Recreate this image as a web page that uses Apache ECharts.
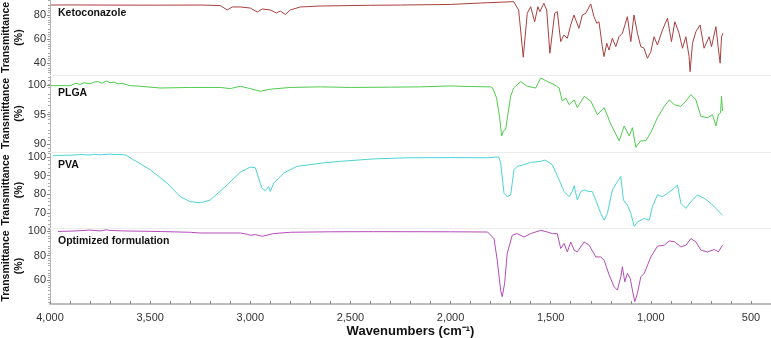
<!DOCTYPE html>
<html>
<head>
<meta charset="utf-8">
<script src="https://cdn.jsdelivr.net/npm/echarts@6/dist/echarts.min.js"></script>
<style>
html,body{margin:0;padding:0;background:#fff;}
#chart{width:771px;height:338px;}
</style>
</head>
<body>
<div id="chart"></div>
<script>
// FTIR spectra: [wavenumber (cm-1), transmittance (%)]
var ketoconazole = [
  [3995, 88.3], [3900, 88.4], [3750, 88.3], [3500, 88.2], [3250, 88.3], [3150, 87.9],
  [3115, 84.2], [3090, 86.7], [3050, 86.7], [3000, 85.8], [2965, 82.5], [2940, 85],
  [2900, 84.2], [2870, 81.7], [2850, 83.3], [2825, 80.4], [2800, 84.2], [2750, 86.7],
  [2650, 87.5], [2400, 88.1], [2250, 88.3], [2000, 88.8], [1850, 90], [1685, 91.1],
  [1660, 84.2], [1637, 44.8], [1617, 81.4], [1600, 86.9], [1580, 74.4], [1564, 86.9],
  [1554, 82.8], [1534, 89.8], [1520, 84.2], [1504, 48.1], [1480, 81.4], [1467, 82.8],
  [1450, 57.8], [1434, 63.3], [1417, 60.6], [1400, 71.7], [1384, 80], [1359, 68.9],
  [1342, 80], [1325, 81.4], [1300, 89.2], [1284, 78.6], [1270, 73.1], [1259, 74.4],
  [1242, 53.6], [1234, 45.3], [1220, 56.4], [1209, 50.8], [1192, 60.6], [1175, 53.6],
  [1159, 61.9], [1142, 64.8], [1117, 78.6], [1100, 57.8], [1084, 80], [1067, 64.8],
  [1050, 53.6], [1034, 52.3], [1017, 43.9], [1000, 49.4], [984, 61.9], [967, 55],
  [942, 67.5], [917, 77.3], [897, 57.8], [880, 74.4], [859, 64.8], [842, 52.3],
  [825, 61.9], [809, 45.3], [804, 32.8], [792, 56.4], [775, 66.1], [754, 71.7],
  [734, 52.3], [709, 61.9], [697, 53.6], [675, 70.3], [664, 53.6], [654, 39.8],
  [647, 61.9], [640, 64.8]
];
var plga = [
  [3995, 99.9], [3950, 99.9], [3900, 99.9], [3870, 100.3], [3850, 100.1], [3830, 100.4],
  [3800, 100.2], [3780, 100.5], [3760, 100.6], [3740, 100.3], [3720, 100.7], [3700, 100.4],
  [3680, 100.5], [3660, 100.2], [3640, 100.3], [3600, 99.9], [3550, 99.8], [3450, 99.5],
  [3300, 99.6], [3150, 99.6], [3100, 99.4], [3050, 99.8], [3000, 99.4], [2950, 98.95],
  [2900, 99.3], [2800, 99.6], [2650, 99.7], [2500, 99.6], [2300, 99.65], [2150, 99.7],
  [2000, 99.85], [1900, 99.75], [1800, 99.7], [1790, 99.5], [1770, 97.8], [1755, 94.5],
  [1745, 91.4], [1735, 92.3], [1725, 92.5], [1700, 98.1], [1685, 99.5], [1650, 100.6],
  [1617, 99.8], [1575, 99.5], [1550, 101.2], [1517, 100.6], [1483, 100.1], [1458, 99.5],
  [1442, 97.3], [1425, 97.8], [1408, 96.7], [1383, 97.5], [1367, 96.2], [1333, 98.1],
  [1300, 97.3], [1267, 95.0], [1233, 96.2], [1200, 93.4], [1158, 90.6], [1133, 93.1],
  [1108, 91.4], [1092, 92.8], [1075, 89.5], [1050, 90.6], [1025, 90.6], [1000, 92.0],
  [967, 94.5], [933, 96.4], [908, 97.5], [883, 96.7], [850, 96.4], [825, 97.3],
  [800, 98.4], [775, 97.5], [750, 94.7], [717, 94.5], [692, 95.0], [675, 93.1],
  [663, 95.0], [652, 95.3], [647, 98.1], [642, 95.6]
];
var pva = [
  [3985, 100.8], [3950, 100.8], [3900, 100.9], [3850, 101.2], [3800, 101.0], [3780, 101.4],
  [3750, 101.1], [3720, 101.3], [3700, 101.5], [3680, 101.2], [3650, 101.3], [3620, 100.9],
  [3585, 98.5], [3550, 96.4], [3500, 93.1], [3415, 85.9], [3350, 78.7], [3300, 76.0],
  [3250, 75.4], [3200, 76.9], [3115, 85], [3050, 91.8], [3000, 94.5], [2975, 94.2],
  [2942, 83.2], [2925, 81.9], [2908, 84.1], [2900, 81.4], [2883, 86], [2833, 91.3],
  [2767, 94.9], [2633, 96.8], [2550, 97.6], [2385, 98.9], [2215, 99.5], [2000, 99.6],
  [1815, 99.5], [1760, 100], [1750, 96.8], [1733, 80.5], [1717, 78.7], [1700, 79.6],
  [1683, 93.1], [1667, 94.9], [1633, 95.8], [1600, 97.1], [1575, 97.3], [1550, 97.6],
  [1530, 98.2], [1517, 97.6], [1492, 95.8], [1458, 87.7], [1433, 81.4], [1408, 78.7],
  [1392, 81.4], [1383, 84.5], [1367, 76.9], [1350, 81.4], [1333, 82.3], [1308, 81.4],
  [1292, 81.4], [1275, 76.9], [1250, 69.7], [1233, 66.1], [1217, 69.7], [1192, 82.3],
  [1167, 86.8], [1150, 89.5], [1137, 76.9], [1117, 74.2], [1100, 69.7], [1083, 62.8],
  [1067, 65.1], [1033, 67.0], [1008, 66.1], [992, 73.3], [967, 79.6], [942, 78.7],
  [917, 80.5], [883, 83.2], [867, 85], [850, 75.1], [825, 72.4], [800, 76.0],
  [767, 79.6], [733, 77.8], [700, 75.1], [667, 71.5], [650, 69.5], [642, 68.8]
];
var optimized = [
  [3960, 99.9], [3900, 100.1], [3850, 100.5], [3800, 101.0], [3750, 100.3], [3720, 101.2],
  [3700, 100.7], [3650, 100.4], [3600, 100.2], [3550, 100.1], [3450, 99.8], [3300, 99.2],
  [3250, 98.6], [3050, 98.6], [3015, 97.5], [3000, 96.7], [2975, 97.3], [2940, 95.9],
  [2885, 98.1], [2800, 99.2], [2600, 99.6], [2385, 99.7], [2000, 99.6], [1815, 99.4],
  [1783, 94], [1767, 76.3], [1750, 51.8], [1742, 46.4], [1730, 57.3], [1717, 81.8],
  [1692, 96.7], [1667, 98.1], [1633, 95.3], [1600, 98.1], [1550, 100.8], [1517, 99.4],
  [1492, 98.1], [1467, 98.1], [1450, 85.9], [1433, 90], [1417, 83.1], [1400, 91.3],
  [1383, 84.5], [1367, 83.1], [1333, 91.3], [1308, 88.6], [1275, 79], [1250, 79],
  [1233, 76.3], [1208, 64.1], [1183, 54.5], [1167, 51.8], [1150, 62.7], [1142, 70.9],
  [1130, 58.6], [1117, 65.5], [1103, 61.4], [1092, 51.8], [1080, 42.3], [1067, 49.1],
  [1050, 62.7], [1033, 65.5], [1000, 79], [967, 87.8], [933, 88.6], [908, 92.1],
  [883, 91.5], [850, 87.2], [825, 88.6], [800, 94], [775, 91.3], [750, 84.5],
  [717, 83.1], [683, 85.1], [663, 83.1], [642, 88.6]
];

var panelNames = ['Ketoconazole', 'PLGA', 'PVA', 'Optimized formulation'];
var panelColors = ['#a8403f', '#4fcb4c', '#4fd3d3', '#b44cb8'];
var panelTicks = [[40, 60, 80], [90, 95, 100], [70, 80, 90, 100], [60, 80, 100]];
var xTicks = [500, 1000, 1500, 2000, 2500, 3000, 3500, 4000];

var FONT = '"Liberation Sans", Arial, sans-serif';
var chart = echarts.init(document.getElementById('chart'));

var grids = [
  {left: 50, right: 0, top: 0, height: 75, outerBoundsMode: 'none', containLabel: false},
  {left: 50, right: 0, top: 75, height: 77, outerBoundsMode: 'none', containLabel: false},
  {left: 50, right: 0, top: 152, height: 76, outerBoundsMode: 'none', containLabel: false},
  {left: 50, right: 0, top: 228, height: 76, outerBoundsMode: 'none', containLabel: false}
];
var yRange = [[30, 92.5], [88.7, 101.7], [61.9, 102.6], [40.4, 102.7]];
var labelTop = [8, 88, 160, 236];

var minorX = [];
for (var w = 500; w <= 4000; w += 100) minorX.push(w);

var xAxes = [], yAxes = [], series = [], titles = [], yNames = [];
var spectra = [ketoconazole, plga, pva, optimized];
for (var i = 0; i < 4; i++) {
  var last = i === 3;
  xAxes.push({
    gridIndex: i, type: 'value', min: 400, max: 4000, inverse: true,
    splitLine: {show: false},
    axisLine: {show: true, lineStyle: {color: last ? '#bdbdbd' : '#ececec', width: last ? 2 : 1}},
    axisTick: {show: last, inside: true, length: 3, customValues: minorX, lineStyle: {color: '#888'}},
    axisLabel: {
      show: last, customValues: xTicks, color: '#333', fontSize: 11, fontFamily: FONT, margin: 8,
      formatter: function (v) { return v.toLocaleString('en-US'); }
    },
    name: last ? 'Wavenumbers (cm\u207B\u00B9)' : '',
    nameLocation: 'middle', nameGap: 21,
    nameTextStyle: {fontSize: 13, fontWeight: 'bold', color: '#111', fontFamily: FONT}
  });
  yAxes.push({
    gridIndex: i, type: 'value', min: yRange[i][0], max: yRange[i][1],
    splitLine: {show: false},
    axisLine: {show: true, lineStyle: {color: '#b4b4b4', width: 1}},
    axisTick: {show: true, length: 3, customValues: panelTicks[i], lineStyle: {color: '#888'}},
    minorTick: {show: true, length: 2, splitNumber: 5, lineStyle: {color: '#aaa'}},
    axisLabel: {customValues: panelTicks[i], color: '#333', fontSize: 11, fontFamily: FONT, margin: 4}
  });
  series.push({
    name: panelNames[i], type: 'line', xAxisIndex: i, yAxisIndex: i,
    data: spectra[i], showSymbol: false, silent: true,
    lineStyle: {color: panelColors[i], width: 1}
  });
  titles.push({
    text: panelNames[i], left: 58, top: labelTop[i], padding: 0,
    textStyle: {fontSize: 10.5, fontWeight: 'bold', color: '#111', fontFamily: FONT}
  });
  // rotated y-axis title, centred on its panel
  yNames.push({
    type: 'text', x: 13, y: grids[i].top + grids[i].height / 2, rotation: Math.PI / 2,
    style: {
      text: 'Transmittance\n(%)', align: 'center', verticalAlign: 'middle',
      font: 'bold 10.5px ' + FONT, lineHeight: 13, fill: '#111'
    }
  });
}

chart.setOption({
  animation: false,
  title: titles,
  grid: grids,
  xAxis: xAxes,
  yAxis: yAxes,
  graphic: yNames,
  series: series
});
</script>
</body>
</html>
